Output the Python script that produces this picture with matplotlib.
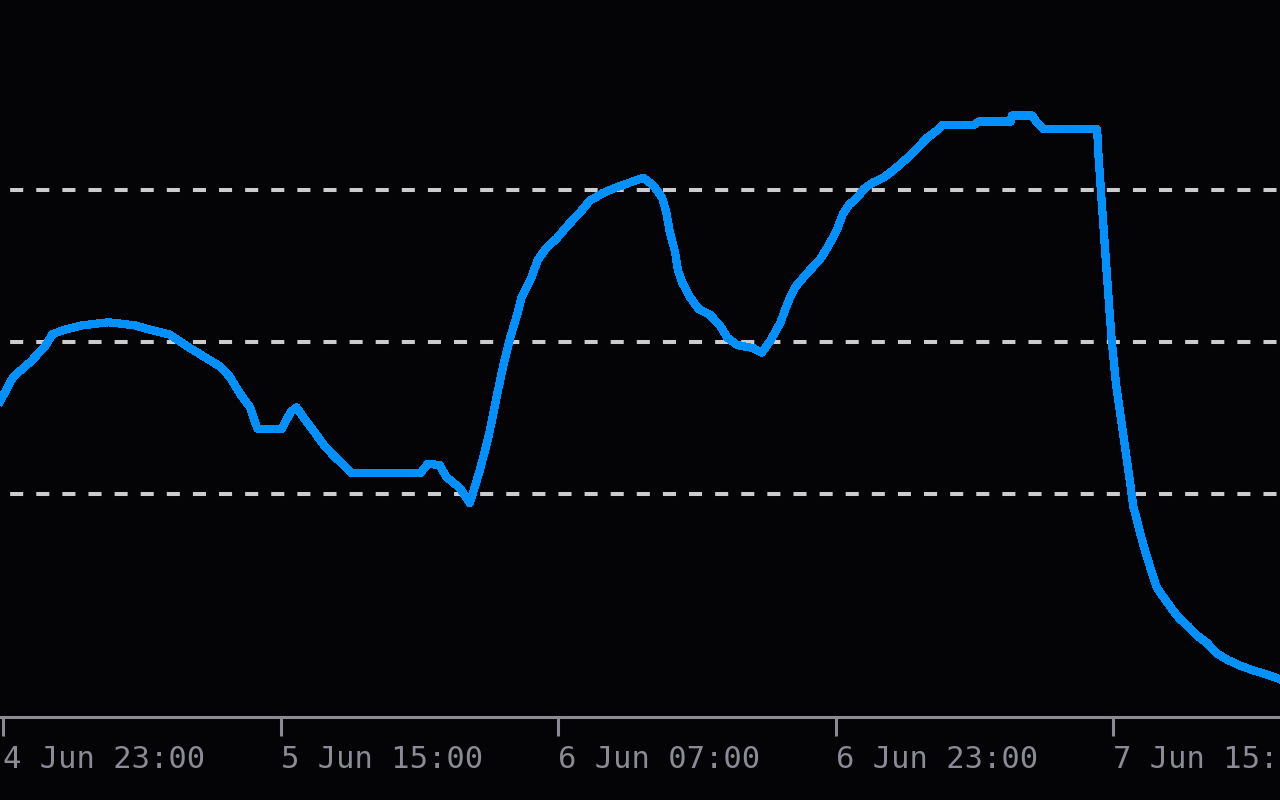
import numpy as np
import pandas as pd
import matplotlib
matplotlib.use('Agg')
import matplotlib.pyplot as plt
import matplotlib.dates as mdates

# readings (15 min logger at the turning points)
times = [
    '2024-06-04 22:50', '2024-06-04 23:35', '2024-06-05 00:35', '2024-06-05 01:25',
    '2024-06-05 01:50', '2024-06-05 02:30', '2024-06-05 03:35', '2024-06-05 05:05',
    '2024-06-05 06:35', '2024-06-05 07:30', '2024-06-05 08:35', '2024-06-05 09:30',
    '2024-06-05 10:30', '2024-06-05 11:30', '2024-06-05 12:05', '2024-06-05 12:40',
    '2024-06-05 13:15', '2024-06-05 13:40', '2024-06-05 15:05', '2024-06-05 15:35',
    '2024-06-05 15:55', '2024-06-05 16:25', '2024-06-05 17:00', '2024-06-05 17:35',
    '2024-06-05 18:10', '2024-06-05 18:45', '2024-06-05 19:05', '2024-06-05 23:05',
    '2024-06-05 23:30', '2024-06-06 00:10', '2024-06-06 00:35', '2024-06-06 01:20',
    '2024-06-06 01:55', '2024-06-06 02:30', '2024-06-06 03:00', '2024-06-06 03:30',
    '2024-06-06 03:50', '2024-06-06 04:15', '2024-06-06 04:40', '2024-06-06 04:55',
    '2024-06-06 05:25', '2024-06-06 05:50', '2024-06-06 06:20', '2024-06-06 06:55',
    '2024-06-06 07:35', '2024-06-06 08:15', '2024-06-06 08:50', '2024-06-06 09:35',
    '2024-06-06 10:25', '2024-06-06 11:10', '2024-06-06 11:55', '2024-06-06 12:30',
    '2024-06-06 13:00', '2024-06-06 13:15', '2024-06-06 13:25', '2024-06-06 13:45',
    '2024-06-06 13:55', '2024-06-06 14:10', '2024-06-06 14:35', '2024-06-06 15:05',
    '2024-06-06 15:45', '2024-06-06 16:20', '2024-06-06 16:45', '2024-06-06 17:20',
    '2024-06-06 18:15', '2024-06-06 18:45', '2024-06-06 19:15', '2024-06-06 19:50',
    '2024-06-06 20:15', '2024-06-06 20:40', '2024-06-06 21:20', '2024-06-06 22:05',
    '2024-06-06 22:35', '2024-06-06 23:05', '2024-06-06 23:25', '2024-06-06 23:45',
    '2024-06-07 00:15', '2024-06-07 00:40', '2024-06-07 01:10', '2024-06-07 01:45',
    '2024-06-07 02:20', '2024-06-07 02:50', '2024-06-07 03:20', '2024-06-07 03:45',
    '2024-06-07 04:15', '2024-06-07 04:50', '2024-06-07 05:10', '2024-06-07 07:00',
    '2024-06-07 07:15', '2024-06-07 09:05', '2024-06-07 09:10', '2024-06-07 10:20',
    '2024-06-07 10:35', '2024-06-07 11:00', '2024-06-07 14:05', '2024-06-07 14:10',
    '2024-06-07 14:25', '2024-06-07 14:40', '2024-06-07 14:55', '2024-06-07 15:10',
    '2024-06-07 15:25', '2024-06-07 15:40', '2024-06-07 15:55', '2024-06-07 16:10',
    '2024-06-07 16:25', '2024-06-07 16:40', '2024-06-07 16:55', '2024-06-07 17:10',
    '2024-06-07 17:30', '2024-06-07 17:55', '2024-06-07 18:25', '2024-06-07 18:50',
    '2024-06-07 19:20', '2024-06-07 19:50', '2024-06-07 20:25', '2024-06-07 21:00',
    '2024-06-07 21:35', '2024-06-07 22:20', '2024-06-07 23:05', '2024-06-07 23:40',
    '2024-06-08 00:40',
]
values = [
    26.1, 27.7, 28.7, 29.7, 30.5, 30.8, 31.1, 31.3,
    31.1, 30.8, 30.5, 29.8, 29.1, 28.4, 27.7, 26.6,
    25.7, 24.3, 24.3, 25.4, 25.7, 24.9, 24.0, 23.1,
    22.4, 21.8, 21.4, 21.4, 22.0, 21.9, 21.1, 20.4,
    19.4, 21.6, 23.8, 26.6, 28.4, 30.3, 31.9, 33.0,
    34.1, 35.4, 36.2, 36.8, 37.7, 38.5, 39.3, 39.8,
    40.2, 40.5, 40.8, 40.3, 39.5, 38.5, 37.4, 35.9,
    34.7, 33.9, 33.0, 32.2, 31.8, 31.1, 30.3, 29.8,
    29.6, 29.3, 30.1, 31.3, 32.6, 33.6, 34.5, 35.4,
    36.3, 37.4, 38.4, 39.0, 39.5, 40.1, 40.5, 40.8,
    41.3, 41.8, 42.3, 42.8, 43.4, 43.9, 44.3, 44.3,
    44.5, 44.5, 44.9, 44.9, 44.5, 44.0, 44.0, 42.2,
    38.1, 34.1, 30.2, 27.3, 25.3, 23.3, 21.3, 19.2,
    18.1, 17.0, 16.0, 15.1, 13.9, 13.2, 12.4, 11.8,
    11.3, 10.7, 10.2, 9.5, 9.1, 8.7, 8.4, 8.2,
    7.8,
]

grid_levels = [20, 30, 40]
tick_start = '2024-06-04 23:00'
tick_count = 5
tick_step = '16h'
x_range = ('2024-06-04 22:49:36', '2024-06-08 00:37:40')
y_range = (5.33, 52.5)

bg = '#040406'
fg = '#8a8b94'

plt.rcParams['lines.scale_dashes'] = False

fig = plt.figure(figsize=(12.8, 8), dpi=100, facecolor=bg)
ax = fig.add_axes([0, 83 / 800, 1, 717 / 800])
ax.set_facecolor(bg)

t = pd.to_datetime(times)
# hard edged line, like the low-res original
ax.plot(t, values, color='#0091ff', lw=5.2, zorder=3, antialiased=False)

ax.set_xlim(pd.Timestamp(x_range[0]), pd.Timestamp(x_range[1]))
ax.set_ylim(*y_range)

ax.set_xticks(pd.date_range(tick_start, periods=tick_count, freq=tick_step))
ax.xaxis.set_major_formatter(mdates.DateFormatter('%-d %b %H:%M'))
ax.set_yticks(grid_levels)
ax.tick_params(axis='y', length=0, labelleft=False)
ax.yaxis.grid(True, color='#cccccc', lw=2.9, linestyle=(11.5, (9.4, 9.4)))
ax.xaxis.grid(False)

ax.tick_params(axis='x', colors=fg, length=13.7, width=2.2, pad=6.5,
               labelsize=22, direction='out')
for lab in ax.get_xticklabels():
    lab.set_ha('left')
    lab.set_fontfamily('DejaVu Sans Mono')

for side in ['top', 'left', 'right']:
    ax.spines[side].set_visible(False)
ax.spines['bottom'].set_color(fg)
ax.spines['bottom'].set_linewidth(2.2)

fig.savefig('out.png', dpi=100, facecolor=bg)
